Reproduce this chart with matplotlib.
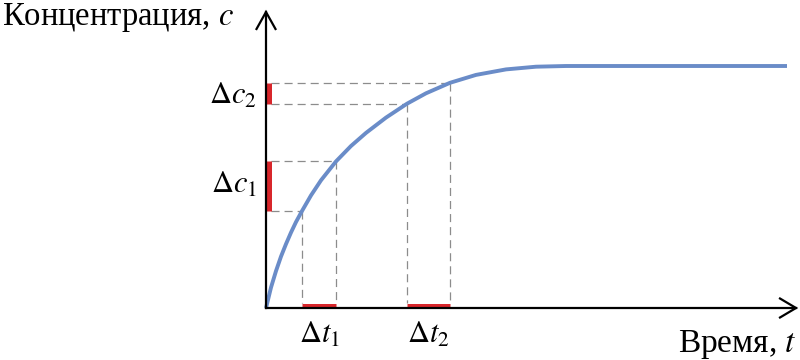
import matplotlib
matplotlib.use("Agg")
import matplotlib.pyplot as plt

plt.rcParams['mathtext.fontset'] = 'stix'
plt.rcParams['font.family'] = ['Liberation Serif', 'DejaVu Serif']
plt.rcParams['lines.scale_dashes'] = False

# Curve (time, concentration)
t_vals = [0, 0.5, 1, 1.5, 2, 2.5, 3, 3.6, 4.5, 5.5, 7, 8.5, 10, 12,
          14.1, 16, 18.4, 21, 24, 27, 30, 52.1]
c_vals = [0, 2.05, 3.7, 5.15, 6.4, 7.55, 8.6, 9.7, 11.26, 12.77, 14.66, 16.2, 17.51, 19.04,
          20.43, 21.47, 22.52, 23.31, 23.86, 24.13, 24.2, 24.2]

# Marked intervals
dt1 = (3.6, 7.0)
dc1 = (9.7, 14.66)
dt2 = (14.1, 18.4)
dc2 = (20.43, 22.52)

xlabel = 'Время, $t$'
ylabel = 'Концентрация, $c$'
dt_labels = [r'$\Delta t_1$', r'$\Delta t_2$']
dc_labels = [r'$\Delta c_1$', r'$\Delta c_2$']

fig = plt.figure(figsize=(8, 3.6), dpi=100)
ax = fig.add_axes([0, 0, 1, 1])
ax.set_xlim(-26.6, 53.4)
ax.set_ylim(-5.2, 30.8)
ax.axis('off')

blue = '#6a8cc8'
red = '#d8262b'
gray = '#8c8c8c'

# dashed guide lines
for (ta, tb), (ca, cb) in [(dt1, dc1), (dt2, dc2)]:
    for t, c in [(ta, ca), (tb, cb)]:
        ax.plot([0.5, t], [c, c], color=gray, lw=0.9, dashes=(5.8, 3.6))
        ax.plot([t, t], [c, 0.5], color=gray, lw=0.9, dashes=(5.8, 3.6))

# curve
ax.plot(t_vals, c_vals, color=blue, lw=2.8, solid_capstyle='butt',
        solid_joinstyle='round', zorder=3)

# red interval bars
for ta, tb in [dt1, dt2]:
    ax.plot([ta, tb], [0.25, 0.25], color=red, lw=3.6, solid_capstyle='butt', zorder=4)
for ca, cb in [dc1, dc2]:
    ax.plot([0.3, 0.3], [ca, cb], color=red, lw=3.6, solid_capstyle='butt', zorder=4)

# axes with open arrowheads
ax.plot([0, 0], [0, 29.6], color='black', lw=1.6, zorder=5)
ax.plot([0, 53.0], [0, 0], color='black', lw=1.6, zorder=5)
ax.plot([-0.95, 0, 0.95], [27.9, 29.6, 27.9], color='black', lw=1.6, zorder=5,
        solid_joinstyle='miter')
ax.plot([51.4, 53.0, 51.4], [0.95, 0, -0.95], color='black', lw=1.6, zorder=5,
        solid_joinstyle='miter')

# labels
ax.text(-26.4, 28.3, ylabel, fontsize=23.5, ha='left', va='baseline')
ax.text(53.1, -4.4, xlabel, fontsize=24, ha='right', va='baseline')
for (ta, tb), lab in zip([dt1, dt2], dt_labels):
    ax.text((ta + tb) / 2, -3.5, lab, fontsize=22, ha='center', va='baseline')
for (ca, cb), lab, base in zip([dc1, dc2], dc_labels, [11.5, 20.4]):
    ax.text(-0.9, base, lab, fontsize=22, ha='right', va='baseline')

fig.savefig('out.png', dpi=100)
